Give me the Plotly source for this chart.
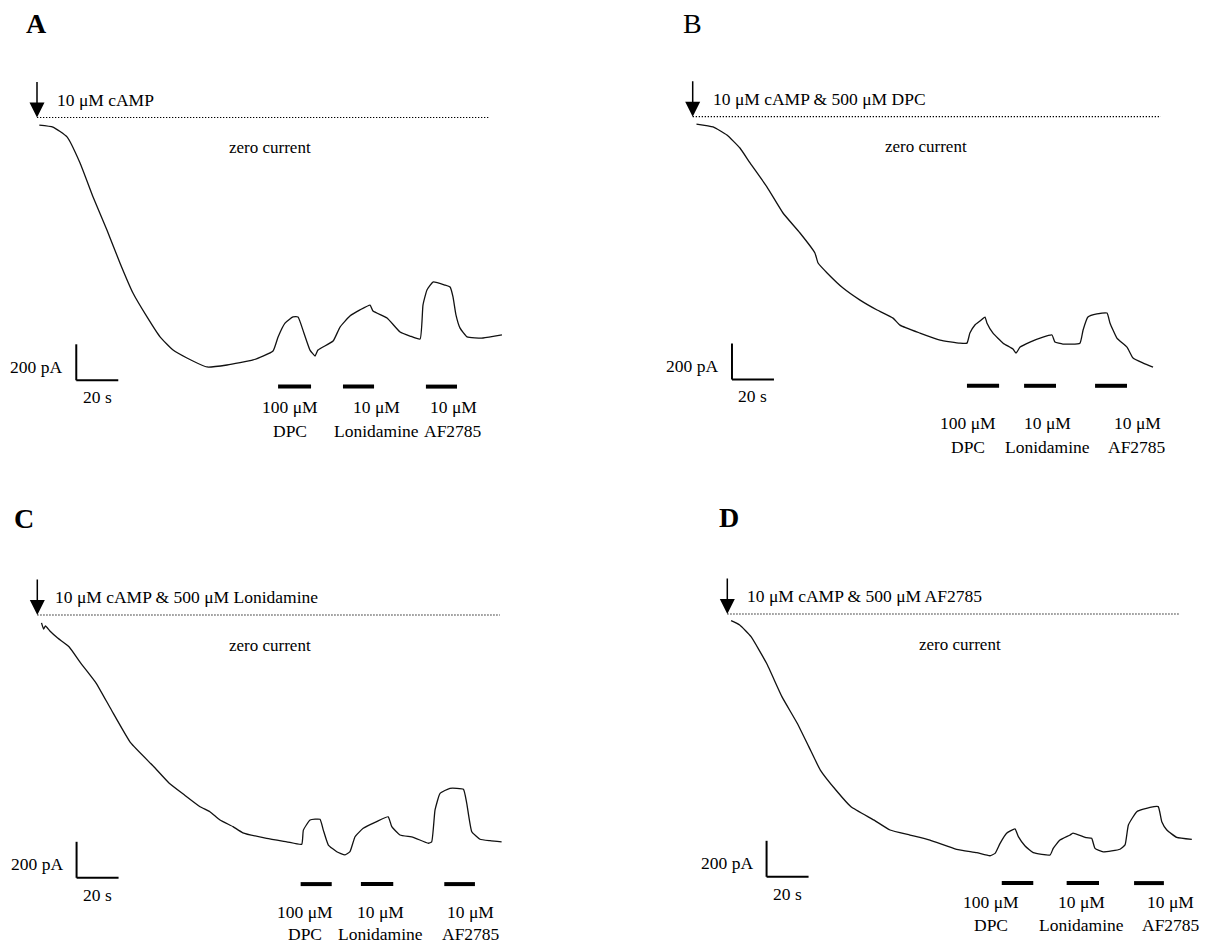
import plotly.graph_objects as go

# ---------------- data (time in s from cAMP application, current in pA) ----------------
A_t = [1.1, 7.6, 14.3, 20.5, 26.7, 33.3, 39.5, 45.7, 52.4, 58.6, 64.8, 71.4, 81.0, 90.5, 102.9,
       112.4, 114.8, 118.1, 121.9, 124.3, 127.1, 130.0, 132.4, 133.8, 141.0, 144.3, 149.0, 153.8,
       158.6, 160.0, 166.7, 172.9, 177.6, 182.4, 183.8, 185.7, 188.6, 194.3, 196.7, 198.1, 199.5,
       201.4, 204.8, 212.4, 221.4]
A_i = [-42, -53, -108, -253, -442, -625, -808, -975, -1108, -1219, -1292, -1336, -1386, -1375, -1347,
       -1297, -1219, -1142, -1108, -1108, -1197, -1292, -1325, -1292, -1242, -1164, -1103, -1069,
       -1042, -1075, -1114, -1192, -1214, -1231, -1042, -958, -914, -931, -942, -997, -1097,
       -1169, -1219, -1225, -1208]

B_t = [1.8, 9.7, 16.3, 22.5, 27.3, 35.4, 43.0, 51.1, 58.2, 59.7, 64.0, 71.6, 79.7, 87.8, 95.4,
       98.7, 108.2, 117.8, 127.3, 130.6, 132.0, 134.4, 136.8, 139.2, 140.1, 143.0, 147.8, 152.5,
       154.0, 155.9, 160.6, 166.8, 171.1, 172.5, 176.3, 184.4, 185.9, 188.2, 192.5, 197.3, 198.7,
       202.0, 206.8, 209.7, 214.5, 219.2]
B_i = [-41, -57, -102, -174, -257, -391, -535, -646, -757, -813, -868, -952, -1019, -1074, -1119,
       -1158, -1202, -1241, -1258, -1258, -1202, -1157, -1135, -1113, -1146, -1202, -1258, -1291,
       -1313, -1280, -1252, -1224, -1213, -1252, -1263, -1258, -1185, -1113, -1096, -1091, -1146,
       -1230, -1280, -1341, -1369, -1391]

C_t = [2.0, 3.0, 3.9, 6.0, 9.7, 15.1, 20.7, 28.0, 35.3, 44.5, 55.5, 62.7, 70.1, 77.5, 82.2, 87.0,
       93.2, 97.9, 109.2, 118.8, 125.9, 126.7, 129.9, 134.6, 136.2, 138.6, 142.6, 146.5, 148.9,
       151.3, 155.2, 161.6, 167.1, 168.8, 172.7, 179.0, 186.2, 187.8, 189.4, 191.8, 196.5, 202.9,
       204.5, 206.9, 210.8, 215.6, 221.1]
C_i = [-44, -78, -61, -89, -128, -176, -267, -378, -528, -711, -843, -933, -1000, -1065, -1093, -1139,
       -1176, -1210, -1241, -1260, -1274, -1195, -1139, -1135, -1195, -1278, -1315, -1333, -1315,
       -1232, -1185, -1148, -1121, -1176, -1222, -1235, -1268, -1260, -1083, -991, -963, -968,
       -1046, -1204, -1246, -1254, -1260]

D_t = [1.8, 5.9, 11.3, 18.7, 26.0, 33.3, 38.8, 44.3, 51.7, 58.9, 69.9, 77.5, 87.0, 96.5, 109.2,
       118.8, 125.1, 127.5, 129.9, 133.0, 137.0, 138.6, 141.8, 145.7, 153.7, 155.2, 158.4, 163.2,
       164.6, 171.1, 173.5, 175.1, 179.0, 187.0, 189.4, 191.0, 195.0, 201.3, 205.2, 206.9, 209.3,
       214.0, 221.2]
D_i = [-37, -61, -126, -274, -459, -607, -737, -867, -978, -1071, -1145, -1200, -1228, -1256, -1307,
       -1326, -1343, -1330, -1274, -1218, -1194, -1237, -1289, -1326, -1339, -1302, -1256, -1228,
       -1217, -1243, -1246, -1302, -1321, -1307, -1283, -1172, -1098, -1074, -1070, -1154, -1200,
       -1241, -1252]

# drug application periods (s): DPC, Lonidamine, AF2785
A_drug_on = [114.8, 145.7, 185.2]
A_drug_off = [130.5, 160.5, 200.0]
B_drug_on = [130.6, 157.8, 191.6]
B_drug_off = [145.9, 173.0, 206.8]
C_drug_on = [125.4, 154.1, 193.8]
C_drug_off = [140.2, 169.5, 208.4]
D_drug_on = [130.7, 161.6, 193.7]
D_drug_off = [145.7, 177.0, 207.9]

drug_conc = ["100 μM", "10 μM", "10 μM"]
drug_names = ["DPC", "Lonidamine", "AF2785"]

panel_letters = ["A", "B", "C", "D"]
panel_titles = ["10 μM cAMP",
                "10 μM cAMP & 500 μM DPC",
                "10 μM cAMP & 500 μM Lonidamine",
                "10 μM cAMP & 500 μM AF2785"]

SCALE_T = 20     # s
SCALE_I = 200    # pA

# ---------------- layout constants ----------------
PAGE_W, PAGE_H = 1210, 946
BODY_MARGIN = 8                      # default page margin around the plot div
W, H = PAGE_W - BODY_MARGIN, PAGE_H - BODY_MARGIN
PX_PER_S = 2.1
PX_PER_PA = 0.18
FONT = "Liberation Serif, Times New Roman, serif"

panels = [
    dict(t=A_t, i=A_i, on=A_drug_on, off=A_drug_off, X0=37.0, Y0=117.5, qx=(0, 605), qy=(0, 473),
         zero_end=215.7, title_t=8.6, letter_t=-0.2, letter_dy=94, letter_bold=True,
         lab_t=[120.3, 161.5, 198.3], lab_dy=(20, 44)),
    dict(t=B_t, i=B_i, on=B_drug_on, off=B_drug_off, X0=692.7, Y0=116.7, qx=(605, 1210), qy=(0, 473),
         zero_end=222.9, title_t=8.7, letter_t=-0.1, letter_dy=93, letter_bold=False,
         lab_t=[131.2, 168.8, 211.7], lab_dy=(37, 61)),
    dict(t=C_t, i=C_i, on=C_drug_on, off=C_drug_off, X0=37.3, Y0=615.0, qx=(0, 605), qy=(473, 946),
         zero_end=220.3, title_t=7.6, letter_t=-6.3, letter_dy=97, letter_bold=True,
         lab_t=[127.4, 163.2, 206.3], lab_dy=(28, 50)),
    dict(t=D_t, i=D_i, on=D_drug_on, off=D_drug_off, X0=727.3, Y0=614.0, qx=(605, 1210), qy=(473, 946),
         zero_end=215.6, title_t=8.6, letter_t=0.6, letter_dy=96.5, letter_bold=True,
         lab_t=[125.7, 168.5, 211.1], lab_dy=(19, 42)),
]

SB_T, SB_I = 18.7, -1460      # scale-bar corner
BAR_I = -1495                 # level of drug bars

fig = go.Figure()
shapes, annos = [], []

for k, p in enumerate(panels, start=1):
    xa = "x" if k == 1 else f"x{k}"
    ya = "y" if k == 1 else f"y{k}"
    # page pixel -> figure pixel
    X0 = p["X0"] - BODY_MARGIN
    Y0 = p["Y0"] - BODY_MARGIN
    qx0 = max(p["qx"][0] - BODY_MARGIN, 0)
    qx1 = min(p["qx"][1] - BODY_MARGIN, W)
    qy0 = max(p["qy"][0] - BODY_MARGIN, 0)
    qy1 = min(p["qy"][1] - BODY_MARGIN, H)
    xr = [(qx0 - X0) / PX_PER_S, (qx1 - X0) / PX_PER_S]
    yr = [(Y0 - qy1) / PX_PER_PA, (Y0 - qy0) / PX_PER_PA]
    axkw = dict(visible=False, showgrid=False, zeroline=False, fixedrange=True)
    fig.update_layout(**{
        ("xaxis" if k == 1 else f"xaxis{k}"): dict(domain=[qx0 / W, qx1 / W],
                                                   range=xr, anchor=ya, **axkw),
        ("yaxis" if k == 1 else f"yaxis{k}"): dict(domain=[1 - qy1 / H, 1 - qy0 / H],
                                                   range=yr, anchor=xa, **axkw),
    })

    fig.add_trace(go.Scatter(x=p["t"], y=p["i"], xaxis=xa, yaxis=ya, mode="lines",
                             line=dict(color="#111111", width=1.3, shape="spline", smoothing=0.4),
                             hoverinfo="skip", showlegend=False))

    # zero-current dotted line
    shapes.append(dict(type="line", xref=xa, yref=ya, x0=0, x1=p["zero_end"], y0=0, y1=0,
                       line=dict(color="black", width=1.2, dash="1.3px,1.7px")))
    # scale bars
    shapes.append(dict(type="line", xref=xa, yref=ya, x0=SB_T, x1=SB_T, y0=SB_I, y1=SB_I + SCALE_I,
                       line=dict(color="black", width=2)))
    shapes.append(dict(type="line", xref=xa, yref=ya, x0=SB_T, x1=SB_T + SCALE_T, y0=SB_I, y1=SB_I,
                       line=dict(color="black", width=2)))
    # drug bars
    for on, off in zip(p["on"], p["off"]):
        shapes.append(dict(type="line", xref=xa, yref=ya, x0=on, x1=off, y0=BAR_I, y1=BAR_I,
                           line=dict(color="black", width=4)))

    f = dict(family=FONT, size=17.5, color="black")
    # application arrow
    annos.append(dict(xref=xa, yref=ya, x=0, y=0, ax=0, ay=-37, text="", showarrow=True,
                      arrowhead=2, arrowsize=2.0, arrowwidth=1.5, arrowcolor="black", standoff=0))
    # title text
    annos.append(dict(xref=xa, yref=ya, x=p["title_t"], y=0, yshift=18, text=panel_titles[k - 1],
                      showarrow=False, xanchor="left", yanchor="middle", font=f))
    # zero current
    annos.append(dict(xref=xa, yref=ya, x=111, y=0, yshift=-30, text="zero current",
                      showarrow=False, xanchor="center", yanchor="middle",
                      font=dict(family=FONT, size=17, color="black")))
    # panel letter
    letter = f"<b>{panel_letters[k-1]}</b>" if p["letter_bold"] else panel_letters[k - 1]
    annos.append(dict(xref=xa, yref=ya, x=p["letter_t"], y=0, yshift=p["letter_dy"], text=letter,
                      showarrow=False, xanchor="center", yanchor="middle",
                      font=dict(family=FONT, size=28, color="black")))
    # scale bar labels
    annos.append(dict(xref=xa, yref=ya, x=SB_T, y=SB_I, xshift=-12, yshift=13.5,
                      text=f"{SCALE_I} pA", showarrow=False, xanchor="right", yanchor="middle", font=f))
    annos.append(dict(xref=xa, yref=ya, x=SB_T + SCALE_T / 2, y=SB_I, yshift=-16.8,
                      text=f"{SCALE_T} s", showarrow=False, xanchor="center", yanchor="middle", font=f))
    # drug labels
    for lt, conc, name in zip(p["lab_t"], drug_conc, drug_names):
        annos.append(dict(xref=xa, yref=ya, x=lt, y=BAR_I, yshift=-p["lab_dy"][0], text=conc,
                          showarrow=False, xanchor="center", yanchor="middle", font=f))
        annos.append(dict(xref=xa, yref=ya, x=lt, y=BAR_I, yshift=-p["lab_dy"][1], text=name,
                          showarrow=False, xanchor="center", yanchor="middle", font=f))

fig.update_layout(width=W, height=H, margin=dict(l=0, r=0, t=0, b=0),
                  paper_bgcolor="white", plot_bgcolor="rgba(0,0,0,0)",
                  showlegend=False, shapes=shapes, annotations=annos)

fig.write_html("out.html")
